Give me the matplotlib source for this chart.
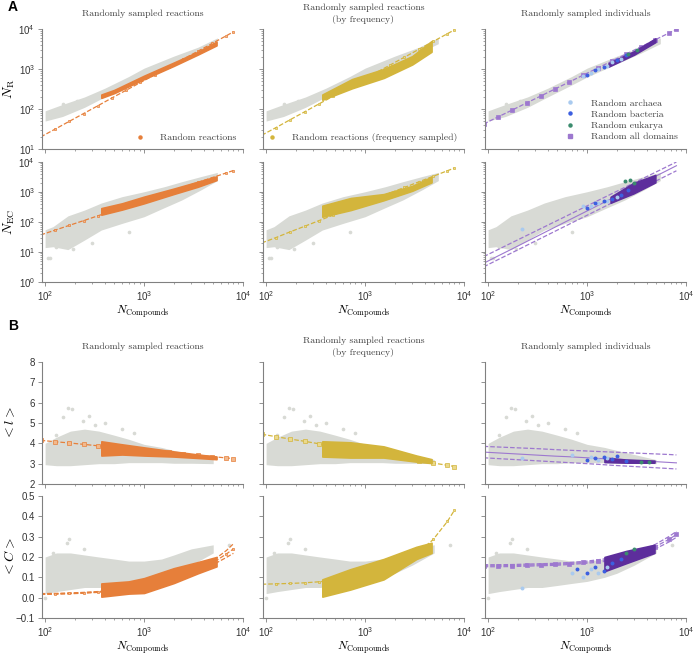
import matplotlib
matplotlib.use('Agg')
import matplotlib.pyplot as plt
from matplotlib.lines import Line2D
from matplotlib.ticker import LogLocator, NullFormatter, MultipleLocator

plt.rcParams['font.family'] = 'Liberation Sans'
plt.rcParams['mathtext.fontset'] = 'cm'

# colours
GRAY = '#d8dad5'
ORANGE = '#e67f3a'
ORANGE_L = '#f3b98c'
YELLOW = '#d3b53c'
YELLOW_L = '#ead98d'
PURPLE = '#5d2e9c'
PURPLE_L = '#9d78cf'
BLUE = '#3c5fe0'
LBLUE = '#a9caef'
GREEN = '#3b8c6e'

# x positions at which the fitted curves were read
x_fit = [90, 125, 175, 245, 340, 475, 660, 920, 1280, 1800, 2500, 3500, 4900, 6800, 8000]

# gray clouds (all organisms), one per quantity: x, lower edge, upper edge
gray_nr_x = [100, 150, 250, 400, 700, 1000, 2000, 3500, 5500]
gray_nr_lo = [50, 65, 110, 200, 400, 630, 1350, 2500, 4300]
gray_nr_hi = [90, 130, 200, 330, 650, 1050, 2100, 3500, 6000]
gray_nr_out_x = [118, 150, 210]
gray_nr_out_y = [78, 133, 160]

gray_nec_x = [100, 120, 170, 250, 370, 600, 1000, 1600, 2400, 3800, 5500]
gray_nec_lo = [14, 15, 12, 25, 54, 90, 150, 300, 540, 1200, 2400]
gray_nec_hi = [55, 70, 160, 250, 430, 700, 1020, 1500, 2200, 3300, 4500]
gray_nec_out_x = [106, 112, 130, 190, 300, 700]
gray_nec_out_y = [6.5, 6.5, 15, 13, 20, 45]

gray_l_x = [100, 130, 180, 250, 350, 500, 700, 1000, 1500, 2000, 3000, 5000]
gray_l_lo = [2.95, 2.9, 2.9, 2.95, 3.0, 3.0, 3.05, 3.05, 3.05, 3.02, 3.02, 3.0]
gray_l_hi = [4.0, 4.3, 4.6, 4.7, 4.6, 4.4, 4.2, 3.95, 3.8, 3.65, 3.45, 3.2]
gray_l_out_x = [170, 185, 150, 240, 280, 320, 400, 600, 800, 130]
gray_l_out_y = [5.75, 5.7, 5.3, 5.1, 5.35, 4.9, 5.0, 4.7, 4.5, 4.4]

gray_c_x = [100, 130, 180, 250, 350, 500, 700, 1000, 1500, 2000, 3000, 5000]
gray_c_lo = [0.02, 0.03, 0.04, 0.05, 0.05, 0.06, 0.07, 0.08, 0.10, 0.12, 0.16, 0.22]
gray_c_hi = [0.20, 0.22, 0.22, 0.21, 0.20, 0.19, 0.18, 0.18, 0.19, 0.21, 0.24, 0.26]
gray_c_out_x = [175, 165, 120, 250, 100, 7200]
gray_c_out_y = [0.29, 0.27, 0.22, 0.24, 0.0, 0.26]

# random reactions (orange)
react_nr_x = [370, 500, 1000, 2000, 3500, 5400]
react_nr_lo = [190, 250, 560, 1200, 2300, 3900]
react_nr_hi = [230, 300, 680, 1450, 2700, 4800]
react_nec_x = [370, 600, 1000, 2000, 3500, 5400]
react_nec_lo = [175, 260, 420, 860, 1500, 2500]
react_nec_hi = [290, 420, 700, 1300, 2200, 3300]
react_l_x = [370, 600, 1000, 2000, 3500, 5400]
react_l_lo = [3.4, 3.45, 3.4, 3.35, 3.28, 3.22]
react_l_hi = [4.1, 3.95, 3.8, 3.6, 3.45, 3.35]
react_c_x = [370, 700, 1000, 2000, 3500, 5400]
react_c_lo = [0.005, 0.02, 0.023, 0.072, 0.12, 0.154]
react_c_hi = [0.07, 0.08, 0.096, 0.145, 0.175, 0.2]

# random reactions by frequency (yellow)
freq_nr_x = [370, 740, 1550, 3000, 4700]
freq_nr_lo = [170, 330, 600, 1300, 2700]
freq_nr_hi = [230, 560, 1000, 2100, 5000]
freq_nec_x = [370, 716, 1540, 3000, 4700]
freq_nec_lo = [150, 250, 530, 1100, 2100]
freq_nec_hi = [350, 630, 850, 1600, 3200]
freq_l_x = [370, 710, 1540, 3300, 4700]
freq_l_lo = [3.35, 3.3, 3.3, 3.1, 3.03]
freq_l_hi = [4.1, 4.05, 3.85, 3.4, 3.22]
freq_c_x = [370, 710, 1540, 3300, 4700]
freq_c_lo = [0.005, 0.04, 0.09, 0.19, 0.22]
freq_c_hi = [0.09, 0.14, 0.19, 0.25, 0.27]

# random individuals, all domains (purple)
indiv_nr_x = [1650, 3000, 4900]
indiv_nr_lo = [1150, 2300, 4700]
indiv_nr_hi = [1400, 2800, 5800]
indiv_nec_x = [1730, 2950, 4900]
indiv_nec_lo = [440, 900, 2100]
indiv_nec_hi = [690, 2000, 3700]
indiv_l_x = [1500, 2500, 4800]
indiv_l_lo = [3.08, 3.05, 3.05]
indiv_l_hi = [3.3, 3.2, 3.15]
indiv_c_x = [1500, 2500, 4800]
indiv_c_lo = [0.13, 0.17, 0.22]
indiv_c_hi = [0.2, 0.23, 0.26]

# single domains: archaea / bacteria / eukarya
arch_nr_x, arch_nr_y = [900, 1100, 1300, 1600, 1800, 2200], [650, 800, 1000, 1200, 1500, 1800]
bact_nr_x, bact_nr_y = [1000, 1200, 1500, 2000, 2500], [720, 950, 1150, 1650, 2200]
euk_nr_x, euk_nr_y = [2600, 3200], [2400, 3000]
arch_nec_x, arch_nec_y = [220, 900, 1100, 1300, 1600, 2000], [58, 350, 330, 420, 500, 700]
bact_nec_x, bact_nec_y = [1000, 1200, 1500, 1800, 2200, 2600], [300, 420, 520, 600, 800, 1200]
euk_nec_x, euk_nec_y = [2400, 2700, 3000], [2300, 2600, 2000]
arch_l_x, arch_l_y = [220, 700, 1100, 1300, 1600], [3.28, 3.42, 3.35, 3.2, 3.3]
bact_l_x, bact_l_y = [1000, 1200, 1500, 1800, 2000, 2500], [3.2, 3.3, 3.35, 3.25, 3.4, 3.15]
euk_l_x, euk_l_y = [3500, 4200], [3.1, 3.08]
arch_c_x, arch_c_y = [220, 700, 900, 1100, 1300, 1600], [0.05, 0.12, 0.1, 0.14, 0.12, 0.15]
bact_c_x, bact_c_y = [800, 1000, 1200, 1500, 1800, 2200], [0.14, 0.12, 0.15, 0.13, 0.17, 0.19]
euk_c_x, euk_c_y = [2500, 3000], [0.22, 0.24]

# fitted curves read at x_fit
fit_nr_react = [20, 31, 49, 77, 120, 190, 295, 460, 715, 1130, 1770, 2780, 4380, 6800, 8500]
fit_nr_freq = [22, 34, 54, 85, 133, 208, 325, 509, 798, 1265, 1972, 3105, 4898, 7638, 9506]
fit_nr_indiv = [42, 63, 94, 142, 211, 317, 472, 708, 1057, 1600, 2383, 3589, 5395, 8035, 9795]
fit_nec_react = [37, 53, 77, 111, 160, 231, 333, 479, 690, 1005, 1442, 2089, 3027, 4345, 5200]
fit_nec_freq = [20, 30, 47, 72, 110, 169, 257, 394, 601, 931, 1419, 2183, 3357, 5117, 6310]
fit_nec_indiv = [4.2, 7.3, 12.7, 22.3, 38.5, 67.4, 117, 203, 352, 622, 1079, 1888, 3311, 5728, 7516]
fit_nec_indiv_hi = [7.0, 11.9, 20.6, 35.4, 60.1, 103, 176, 301, 515, 893, 1520, 2624, 4519, 7690, 10000]
fit_nec_indiv_lo = [3.2, 5.5, 9.5, 16.6, 28.4, 49.2, 84.5, 146, 251, 440, 753, 1309, 2275, 3899, 5093]
fit_l_react = [4.15, 4.08, 4.02, 3.95, 3.88, 3.82, 3.75, 3.68, 3.62, 3.55, 3.48, 3.42, 3.35, 3.28, 3.25]
fit_l_freq = [4.45, 4.33, 4.21, 4.10, 3.98, 3.86, 3.74, 3.63, 3.51, 3.39, 3.27, 3.15, 3.03, 2.92, 2.86]
fit_l_indiv = [3.57, 3.53, 3.49, 3.45, 3.41, 3.37, 3.34, 3.30, 3.26, 3.22, 3.18, 3.14, 3.10, 3.06, 3.04]
fit_l_indiv_hi = [3.85, 3.82, 3.79, 3.76, 3.73, 3.69, 3.66, 3.63, 3.60, 3.57, 3.54, 3.51, 3.48, 3.45, 3.43]
fit_l_indiv_lo = [3.29, 3.25, 3.21, 3.17, 3.13, 3.09, 3.05, 3.01, 2.97, 2.92, 2.88, 2.84, 2.80, 2.76, 2.74]
fit_c_react = [0.018, 0.019, 0.021, 0.024, 0.028, 0.034, 0.042, 0.053, 0.067, 0.085, 0.107, 0.135, 0.17, 0.215, 0.24]
fit_c_react_hi = [0.02, 0.021, 0.023, 0.026, 0.030, 0.036, 0.044, 0.055, 0.070, 0.089, 0.112, 0.142, 0.18, 0.232, 0.265]
fit_c_react_lo = [0.016, 0.017, 0.019, 0.022, 0.026, 0.032, 0.040, 0.051, 0.064, 0.081, 0.102, 0.128, 0.16, 0.198, 0.218]
fit_c_freq = [0.066, 0.068, 0.070, 0.073, 0.078, 0.084, 0.092, 0.104, 0.121, 0.145, 0.177, 0.223, 0.287, 0.375, 0.43]
fit_c_indiv = [0.157, 0.157, 0.158, 0.160, 0.162, 0.164, 0.168, 0.173, 0.180, 0.190, 0.204, 0.223, 0.251, 0.288, 0.311]
fit_c_indiv_hi = [0.162, 0.162, 0.163, 0.165, 0.167, 0.169, 0.173, 0.178, 0.186, 0.197, 0.212, 0.232, 0.262, 0.302, 0.326]
fit_c_indiv_lo = [0.152, 0.152, 0.153, 0.155, 0.157, 0.159, 0.163, 0.168, 0.174, 0.183, 0.196, 0.214, 0.240, 0.275, 0.297]

col_titles = ['Randomly sampled reactions',
              'Randomly sampled reactions\n(by frequency)',
              'Randomly sampled individuals']
row_labels = [r'$N_{\mathrm{R}}$', r'$N_{\mathrm{EC}}$', r'$<l>$', r'$<C>$']

serif = {'family': 'cmr10', 'size': 7}

fig = plt.figure(figsize=(7, 6.55), dpi=100)

col_left = [42, 263, 485]
rows_px = [(29, 149), (162, 282), (362, 484), (496, 618)]

axes = []
for r, (top, bot) in enumerate(rows_px):
    row = []
    for c, left in enumerate(col_left):
        ax = fig.add_axes([left / 700, 1 - bot / 655, 201 / 700, (bot - top) / 655])
        row.append(ax)
    axes.append(row)

grays = [
    (gray_nr_x, gray_nr_lo, gray_nr_hi, gray_nr_out_x, gray_nr_out_y),
    (gray_nec_x, gray_nec_lo, gray_nec_hi, gray_nec_out_x, gray_nec_out_y),
    (gray_l_x, gray_l_lo, gray_l_hi, gray_l_out_x, gray_l_out_y),
    (gray_c_x, gray_c_lo, gray_c_hi, gray_c_out_x, gray_c_out_y),
]

bands = [
    [(react_nr_x, react_nr_lo, react_nr_hi), (freq_nr_x, freq_nr_lo, freq_nr_hi), (indiv_nr_x, indiv_nr_lo, indiv_nr_hi)],
    [(react_nec_x, react_nec_lo, react_nec_hi), (freq_nec_x, freq_nec_lo, freq_nec_hi), (indiv_nec_x, indiv_nec_lo, indiv_nec_hi)],
    [(react_l_x, react_l_lo, react_l_hi), (freq_l_x, freq_l_lo, freq_l_hi), (indiv_l_x, indiv_l_lo, indiv_l_hi)],
    [(react_c_x, react_c_lo, react_c_hi), (freq_c_x, freq_c_lo, freq_c_hi), (indiv_c_x, indiv_c_lo, indiv_c_hi)],
]

# (center, hi, lo, marker size; 0 = solid line without markers)
fits = [
    [(fit_nr_react, None, None, 1.6), (fit_nr_freq, None, None, 1.6), (fit_nr_indiv, None, None, 2.6)],
    [(fit_nec_react, None, None, 1.6), (fit_nec_freq, None, None, 1.6),
     (fit_nec_indiv, fit_nec_indiv_hi, fit_nec_indiv_lo, 0)],
    [(fit_l_react, None, None, 2.6), (fit_l_freq, None, None, 2.6),
     (fit_l_indiv, fit_l_indiv_hi, fit_l_indiv_lo, 0)],
    [(fit_c_react, fit_c_react_hi, fit_c_react_lo, 1.6), (fit_c_freq, None, None, 1.6),
     (fit_c_indiv, fit_c_indiv_hi, fit_c_indiv_lo, 2.6)],
]

domains = [
    (arch_nr_x, arch_nr_y, bact_nr_x, bact_nr_y, euk_nr_x, euk_nr_y),
    (arch_nec_x, arch_nec_y, bact_nec_x, bact_nec_y, euk_nec_x, euk_nec_y),
    (arch_l_x, arch_l_y, bact_l_x, bact_l_y, euk_l_x, euk_l_y),
    (arch_c_x, arch_c_y, bact_c_x, bact_c_y, euk_c_x, euk_c_y),
]

main_cols = [ORANGE, YELLOW, PURPLE]
light_cols = [ORANGE_L, YELLOW_L, PURPLE_L]
line_cols = [ORANGE, YELLOW, PURPLE_L]

for r in range(4):
    gx, glo, ghi, ox, oy = grays[r]
    for c in range(3):
        ax = axes[r][c]
        ax.set_xscale('log')
        if r < 2:
            ax.set_yscale('log')

        # gray cloud
        ax.fill_between(gx, glo, ghi, color=GRAY, lw=0, zorder=1)
        ax.scatter(ox, oy, s=7, color=GRAY, lw=0, zorder=1)

        # fitted curve
        center, hi, lo, ms = fits[r][c]
        lc = line_cols[c]
        if hi is not None:
            ax.plot(x_fit, hi, ls='--', color=lc, lw=0.9, zorder=2)
            ax.plot(x_fit, lo, ls='--', color=lc, lw=0.9, zorder=2)
        if ms > 0:
            ax.plot(x_fit, center, ls='--', color=lc, lw=0.9, marker='s', ms=ms,
                    mfc=light_cols[c], mec=lc, mew=0.5, zorder=2)
        else:
            ax.plot(x_fit, center, ls='-', color=lc, lw=0.8, zorder=2)

        # sampled networks
        bx, blo, bhi = bands[r][c]
        ax.fill_between(bx, blo, bhi, color=main_cols[c], lw=1.2,
                        edgecolor=main_cols[c], zorder=3)

        if c == 2:
            axx, ayy, bxx, byy, exx, eyy = domains[r]
            ax.scatter(axx, ayy, s=8, color=LBLUE, lw=0, zorder=4)
            ax.scatter(bxx, byy, s=8, color=BLUE, lw=0, zorder=4)
            ax.scatter(exx, eyy, s=8, color=GREEN, lw=0, zorder=4)

        # axes styling
        ax.set_xlim(93, 1e4)
        ax.xaxis.set_major_locator(LogLocator(base=10, numticks=10))
        ax.xaxis.set_minor_locator(LogLocator(base=10, subs=range(2, 10), numticks=20))
        ax.xaxis.set_minor_formatter(NullFormatter())
        if r == 0:
            ax.set_ylim(10, 1e4)
        elif r == 1:
            ax.set_ylim(1, 1e4)
        elif r == 2:
            ax.set_ylim(2, 8)
            ax.yaxis.set_major_locator(MultipleLocator(1))
        else:
            ax.set_ylim(-0.1, 0.5)
            ax.yaxis.set_major_locator(MultipleLocator(0.1))
        if r < 2:
            ax.yaxis.set_major_locator(LogLocator(base=10, numticks=10))
            ax.yaxis.set_minor_locator(LogLocator(base=10, subs=range(2, 10), numticks=20))
            ax.yaxis.set_minor_formatter(NullFormatter())

        for side in ['top', 'right']:
            ax.spines[side].set_visible(False)
        for side in ['left', 'bottom']:
            ax.spines[side].set_color('#808080')
            ax.spines[side].set_linewidth(0.8)
        ax.tick_params(which='major', direction='out', length=3, width=0.6,
                       color='#808080', labelsize=7, labelcolor='#333333', pad=2)
        ax.tick_params(which='minor', direction='out', length=1.6, width=0.5, color='#808080')

        if r in (0, 2):
            ax.tick_params(labelbottom=False)
        else:
            ax.set_xlabel(r'$N_{\mathrm{Compounds}}$', fontsize=8.5, labelpad=0.5)
        if c > 0:
            ax.tick_params(labelleft=False)
        else:
            ax.set_ylabel(row_labels[r], fontsize=10)
            ax.yaxis.set_label_coords(-25 / 201, 0.5)

        # column titles
        if r in (0, 2):
            h = rows_px[r][1] - rows_px[r][0]
            ax.text(0.5, 1 + 15.5 / h, col_titles[c], transform=ax.transAxes,
                    ha='center', va='center', fontdict=serif, color='#444444',
                    linespacing=1.4)

# legends
leg_font = {'family': 'cmr10', 'size': 7}
h1 = [Line2D([], [], ls='', marker='o', ms=2.2, color=ORANGE)]
axes[0][0].legend(h1, ['Random reactions'], loc='lower right', frameon=False,
                  prop=leg_font, handletextpad=1.0, borderaxespad=0.3, labelcolor='#444444')
h2 = [Line2D([], [], ls='', marker='o', ms=2.2, color=YELLOW)]
axes[0][1].legend(h2, ['Random reactions (frequency sampled)'], loc='lower right', frameon=False,
                  prop=leg_font, handletextpad=1.0, borderaxespad=0.3, labelcolor='#444444')
h3 = [Line2D([], [], ls='', marker='o', ms=2.2, color=LBLUE),
      Line2D([], [], ls='', marker='o', ms=2.2, color=BLUE),
      Line2D([], [], ls='', marker='o', ms=2.2, color=GREEN),
      Line2D([], [], ls='', marker='s', ms=2.2, color=PURPLE_L)]
axes[0][2].legend(h3, ['Random archaea', 'Random bacteria', 'Random eukarya', 'Random all domains'],
                  loc='lower right', frameon=False, prop=leg_font, handletextpad=1.2,
                  borderaxespad=0.4, labelspacing=0.25, labelcolor='#444444')

fig.text(8 / 700, 1 - 7 / 655, 'A', fontsize=10, fontweight='bold', va='center', ha='left')
fig.text(8 / 700, 1 - 326 / 655, 'B', fontsize=10, fontweight='bold', va='center', ha='left')

fig.savefig('out.png', dpi=100)
